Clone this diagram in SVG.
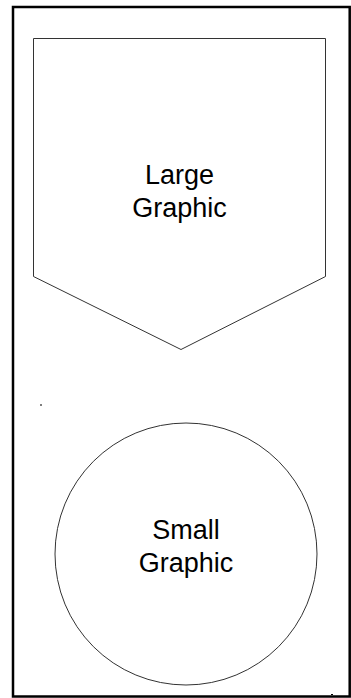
<svg xmlns="http://www.w3.org/2000/svg" width="351" height="698" viewBox="0 0 351 698">
<style>
.shape{fill:#fff;stroke:#333;stroke-width:1}
.lbl{font-family:"Liberation Sans",Arial,sans-serif;font-size:27px;fill:#000;text-anchor:middle}
</style>
<rect x="0" y="0" width="351" height="698" fill="#fff"/>
<rect x="13" y="7" width="336.7" height="689.5" fill="none" stroke="#000" stroke-width="2.5"/>
<g id="large-graphic">
<polygon class="shape" points="33.5,38.5 325.5,38.5 325.5,276.5 181,349.5 33.5,276.5"/>
<text class="lbl" x="179.5" y="184">Large</text>
<text class="lbl" x="179.5" y="217">Graphic</text>
</g>
<g id="small-graphic">
<circle class="shape" cx="186" cy="554" r="131"/>
<text class="lbl" x="186" y="539">Small</text>
<text class="lbl" x="186" y="572">Graphic</text>
</g>
<g id="marks">
<rect x="40" y="404.5" width="2" height="1" fill="#000"/>
<rect x="331" y="694" width="2" height="1" fill="#000"/>
</g>
<g id="connectors"></g>
</svg>
